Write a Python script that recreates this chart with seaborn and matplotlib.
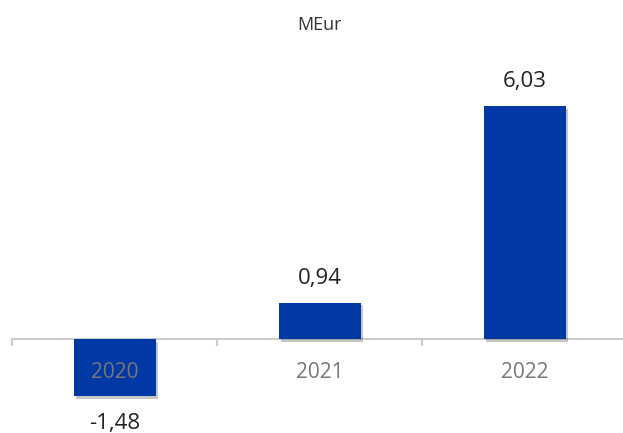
import matplotlib
matplotlib.use("Agg")
import matplotlib.pyplot as plt
import matplotlib.patheffects as pe
import seaborn as sns
import pandas as pd

years = ["2020", "2021", "2022"]
values = [-1.48, 0.94, 6.03]
value_labels = ["-1,48", "0,94", "6,03"]
unit_title = "MEur"

sns.set_theme(style="white")
plt.rcParams['font.family'] = ['Open Sans', 'DejaVu Sans']

df = pd.DataFrame({"year": years, "value": values})

fig = plt.figure(figsize=(6.23, 4.33), dpi=100)
ax = fig.add_axes([12/623, 0, 615/623, 1])
ax.set_axisbelow(False)

sns.barplot(data=df, x="year", y="value", color="#0039A6", width=0.4,
            saturation=1, ax=ax, zorder=1, linewidth=0)

for p in ax.patches:
    p.set_path_effects([pe.SimplePatchShadow(offset=(1.5, -2), alpha=0.3, shadow_rgbFace="#444444"),
                        pe.Normal()])

ax.set_xlim(-0.5, 2.5)
ax.set_ylim(-94/38.6, 339/38.6)

for i, (v, lab) in enumerate(zip(values, value_labels)):
    if v >= 0:
        ax.annotate(lab, (i, v), xytext=(0, 13.5), textcoords="offset points",
                    ha="center", va="baseline", fontsize=16, color="#222222")
    else:
        ax.annotate(lab, (i, v), xytext=(0, -24), textcoords="offset points",
                    ha="center", va="baseline", fontsize=16, color="#222222")

for s in ["top", "left", "right"]:
    ax.spines[s].set_visible(False)
ax.spines["bottom"].set_position(("data", 0))
ax.spines["bottom"].set_color("#cccccc")
ax.spines["bottom"].set_linewidth(1.5)
ax.spines["bottom"].set_zorder(0.5)
ax.xaxis.set_zorder(3)

ax.set_xticks(range(len(years)))
ax.set_xticklabels(years)
ax.set_xticks([-0.5, 0.5, 1.5, 2.5], minor=True)
ax.tick_params(axis="x", which="major", length=0, pad=16.5, labelsize=15, labelcolor="#777777")
ax.tick_params(axis="x", which="minor", length=5, width=1.5, color="#cccccc", direction="out", bottom=True)
ax.set_yticks([])
ax.set_xlabel("")
ax.set_ylabel("")

fig.text(320/623, 1 - 25/433, unit_title, ha="center", va="center", fontsize=13, color="#333333")

fig.savefig("out.png", dpi=100)
